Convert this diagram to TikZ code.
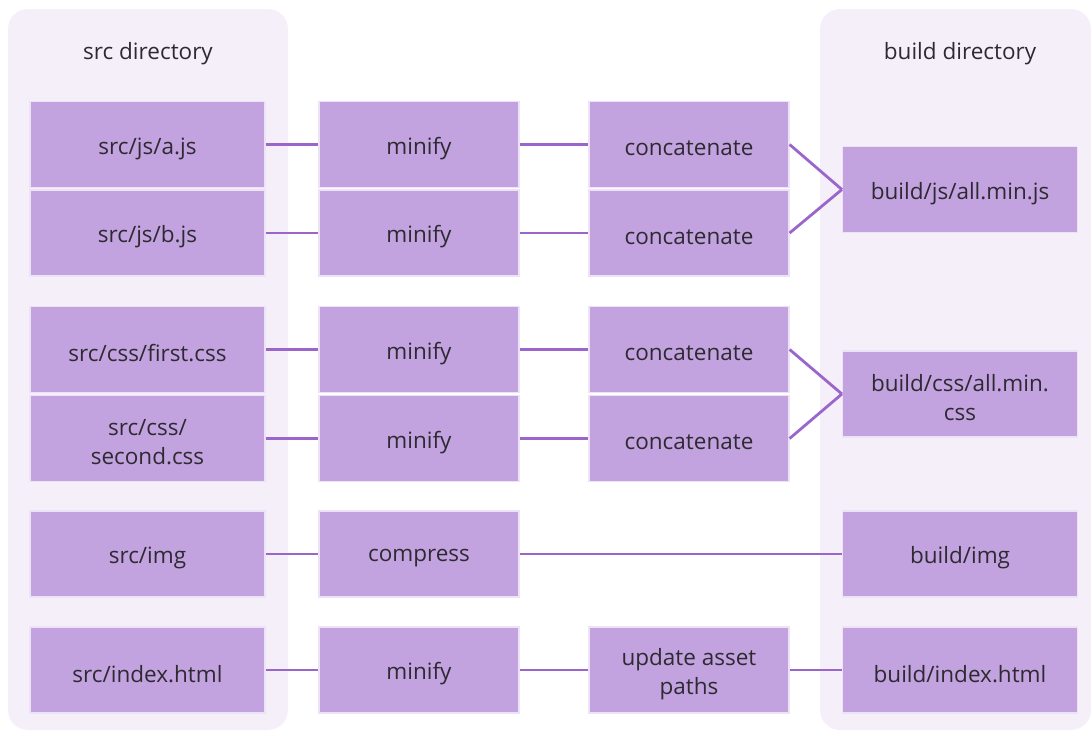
\documentclass[tikz,border=0pt]{standalone}
\usepackage{fontspec}
\setmainfont{Open Sans}
\definecolor{panel}{HTML}{F5EFFA}
\definecolor{boxfill}{HTML}{C3A3DF}
\definecolor{boxedge}{HTML}{EDE2F6}
\definecolor{wire}{HTML}{9A66CC}
\definecolor{ink}{HTML}{2E2A32}
\begin{document}
\begin{tikzpicture}[x=1pt,y=-1pt,
  panelbox/.style={fill=panel,rounded corners=20pt},
  txt/.style={text=ink,font=\fontsize{22.5}{29}\selectfont,align=center,
    inner sep=0pt,yshift=-4pt},
  stage/.style={rectangle,fill=boxfill,draw=boxedge,line width=1.2pt,inner sep=0pt},
  wide/.style={stage,minimum width=235pt,minimum height=86pt},
  narrow/.style={stage,minimum width=200pt,minimum height=86pt},
  title/.style={text=ink,font=\fontsize{22.5}{29}\selectfont},
  link/.style={draw=wire,line width=2.8pt}]
\useasboundingbox (0,0) rectangle (1091,731);
% directory panels
\fill[panelbox] (8,9) rectangle (288,730);
\fill[panelbox] (820,9) rectangle (1091,730);
\node[title] (srct) at (148,54) {src directory};
\node[title] (buildt) at (960,54) {build directory};
% source files
\node[wide,label={[txt]center:src/js/a.js}] (ajs) at (147.5,144.5) {};
\node[wide,label={[txt]center:src/js/b.js}] (bjs) at (147.5,233) {};
\node[wide,label={[txt]center:src/css/first.css}] (fcss) at (147.5,349.5) {};
\node[wide,label={[txt]center:src/css/\\second.css}] (scss) at (147.5,438.5) {};
\node[wide,label={[txt]center:src/img}] (simg) at (147.5,554) {};
\node[wide,label={[txt]center:src/index.html}] (shtml) at (147.5,670) {};
% first processing step
\node[narrow,label={[txt]center:minify}] (m1) at (419,144.5) {};
\node[narrow,label={[txt]center:minify}] (m2) at (419,233) {};
\node[narrow,label={[txt]center:minify}] (m3) at (419,349.5) {};
\node[narrow,label={[txt]center:minify}] (m4) at (419,438.5) {};
\node[narrow,label={[txt]center:compress}] (comp) at (419,554) {};
\node[narrow,label={[txt]center:minify}] (m5) at (419,670) {};
% second processing step
\node[narrow,label={[txt]center:concatenate}] (c1) at (689,144.5) {};
\node[narrow,label={[txt]center:concatenate}] (c2) at (689,233) {};
\node[narrow,label={[txt]center:concatenate}] (c3) at (689,349.5) {};
\node[narrow,label={[txt]center:concatenate}] (c4) at (689,438.5) {};
\node[narrow,label={[txt]center:update asset\\paths}] (upd) at (689,670) {};
% build outputs
\node[wide,label={[txt]center:build/js/all.min.js}] (bjsout) at (960,189.5) {};
\node[wide,label={[txt]center:build/css/all.min.\\css}] (bcss) at (960,394) {};
\node[wide,label={[txt]center:build/img}] (bimg) at (960,554) {};
\node[wide,label={[txt]center:build/index.html}] (bhtml) at (960,670) {};
% connectors
\draw[link] (ajs.east) -- (m1.west);
\draw[link] (m1.east) -- (c1.west);
\draw[link] (c1.east) -- (bjsout.west);
\draw[link] (bjs.east) -- (m2.west);
\draw[link] (m2.east) -- (c2.west);
\draw[link] (c2.east) -- (bjsout.west);
\draw[link] (fcss.east) -- (m3.west);
\draw[link] (m3.east) -- (c3.west);
\draw[link] (c3.east) -- (bcss.west);
\draw[link] (scss.east) -- (m4.west);
\draw[link] (m4.east) -- (c4.west);
\draw[link] (c4.east) -- (bcss.west);
\draw[link] (simg.east) -- (comp.west);
\draw[link] (comp.east) -- (bimg.west);
\draw[link] (shtml.east) -- (m5.west);
\draw[link] (m5.east) -- (upd.west);
\draw[link] (upd.east) -- (bhtml.west);
\end{tikzpicture}
\end{document}
